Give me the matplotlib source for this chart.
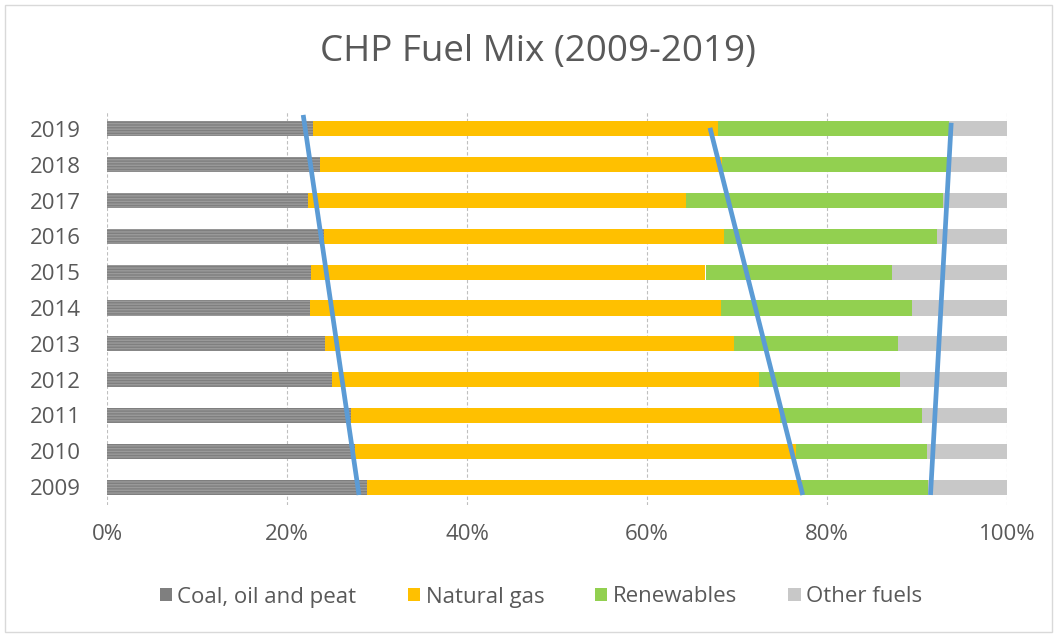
import matplotlib
matplotlib.use("Agg")
import matplotlib.pyplot as plt
from matplotlib.patches import Rectangle
import numpy as np

years = ["2009", "2010", "2011", "2012", "2013", "2014", "2015", "2016", "2017", "2018", "2019"]
coal = [28.9, 27.6, 27.1, 25.0, 24.2, 22.5, 22.7, 24.1, 22.3, 23.7, 22.9]
gas_end = [77.2, 76.5, 74.8, 72.4, 69.7, 68.2, 66.5, 68.5, 64.3, 68.3, 67.9]
ren_end = [91.2, 91.1, 90.6, 88.1, 87.9, 89.4, 87.2, 92.2, 92.9, 93.3, 93.5]

natural_gas = [g - c for g, c in zip(gas_end, coal)]
renewables = [r - g for r, g in zip(ren_end, gas_end)]
other = [100 - r for r in ren_end]

# annotation trend lines: (x at top, x at bottom) in percent
trend_top_x = [21.8, 67.0, 93.8]
trend_bottom_x = [28.0, 77.3, 91.5]
trend_top_y = [10.39, 10.03, 10.17]
trend_bottom_y = [-0.22, -0.22, -0.22]

series_names = ["Coal, oil and peat", "Natural gas", "Renewables", "Other fuels"]
colors = ["#7f7f7f", "#FFC000", "#92D050", "#C8C8C8"]

plt.rcParams['font.family'] = ['Open Sans', 'DejaVu Sans']
plt.rcParams['hatch.linewidth'] = 1.0

fig = plt.figure(figsize=(10.57, 6.37), dpi=100)
ax = fig.add_axes([107/1057, 1 - 505/637, 900/1057, 394/637])

y = np.arange(len(years))
h = 0.42
left = np.zeros(len(years))
for i, (vals, name, col) in enumerate(zip([coal, natural_gas, renewables, other], series_names, colors)):
    if i == 0:
        ax.barh(y, vals, left=left, height=h, color=col, edgecolor="#9a9a9a",
                linewidth=0, hatch="------", label=name, zorder=2)
    else:
        ax.barh(y, vals, left=left, height=h, color=col, linewidth=0, label=name, zorder=2)
    left = left + np.array(vals)

for tx, bx, ty, by in zip(trend_top_x, trend_bottom_x, trend_top_y, trend_bottom_y):
    ax.plot([tx, bx], [ty, by], color="#5B9BD5", linewidth=3.4, zorder=4, solid_capstyle="butt")

ax.set_xlim(0, 100)
ax.set_ylim(-0.5, 10.5)
ax.set_yticks(y)
ax.set_yticklabels(years)
ax.set_xticks([0, 20, 40, 60, 80, 100])
ax.set_xticklabels(["0%", "20%", "40%", "60%", "80%", "100%"])
ax.tick_params(axis="both", length=0, labelsize=16, colors="#595959")
ax.tick_params(axis="x", pad=14)
ax.tick_params(axis="y", pad=19)
for s in ax.spines.values():
    s.set_visible(False)
ax.grid(axis="x", color="#BFBFBF", linestyle=(0, (3, 2)), linewidth=0.8, zorder=0)
ax.set_axisbelow(True)

fig.text(538/1057, 1 - 52/637, "CHP Fuel Mix (2009-2019)", ha="center", va="center",
         fontsize=26.5, color="#595959")

leg_handles = [Rectangle((0, 0), 1, 1, facecolor=c, edgecolor="none") for c in colors]
leg = fig.legend(leg_handles, series_names, loc="center", bbox_to_anchor=(541/1057, 1 - 597/637),
                 ncol=4, frameon=False, fontsize=16, handlelength=0.55, handleheight=0.55,
                 handletextpad=0.25, columnspacing=2.3)
for t in leg.get_texts():
    t.set_color("#595959")

fig.patches.append(Rectangle((5/1057, 5/637), 1047/1057, 627/637, transform=fig.transFigure,
                             fill=False, edgecolor="#D9D9D9", linewidth=1))

fig.savefig("out.png", dpi=100)
